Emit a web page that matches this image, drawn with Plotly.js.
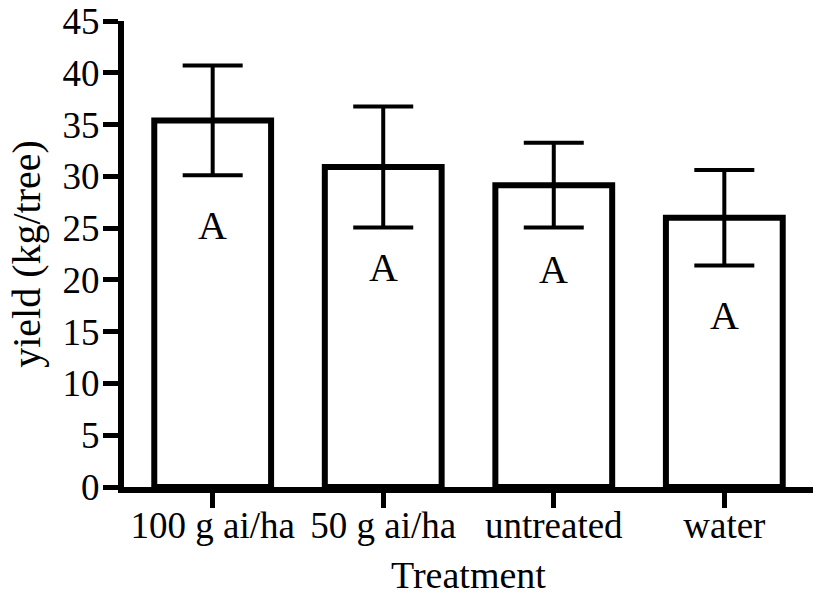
<!DOCTYPE html>
<html>
<head>
<meta charset="utf-8">
<script src="https://cdn.plot.ly/plotly-3.0.1.min.js"></script>
<style>html,body{margin:0;padding:0;background:#fff;}#chart{width:813px;height:598px;}</style>
</head>
<body>
<div id="chart"></div>
<script>
// Data
var categories = ['100 g ai/ha', '50 g ai/ha', 'untreated', 'water'];
var yieldMeans = [35.4, 30.9, 29.15, 26.0];
var yieldErrors = [5.3, 5.85, 4.1, 4.6];
var groupLetters = ['A', 'A', 'A', 'A'];
var letterY = [25.3, 21.2, 21.0, 16.6];
var yTickValues = [0, 5, 10, 15, 20, 25, 30, 35, 40, 45];

var FONT = 'Liberation Serif, Times New Roman, serif';

var trace = {
  type: 'bar',
  x: categories,
  y: yieldMeans,
  width: 0.685,
  marker: {color: '#ffffff', line: {color: '#000000', width: 6}},
  error_y: {type: 'data', array: yieldErrors, visible: true, color: '#000000', thickness: 4, width: 30},
  hoverinfo: 'none'
};

var annotations = categories.map(function (c, i) {
  return {
    x: c, y: letterY[i], xref: 'x', yref: 'y',
    text: groupLetters[i], showarrow: false,
    font: {family: FONT, size: 40, color: '#000'},
    yanchor: 'middle', xanchor: 'center'
  };
});

var layout = {
  width: 813, height: 598,
  margin: {l: 124, r: 0, t: 21, b: 111},
  paper_bgcolor: '#ffffff', plot_bgcolor: '#ffffff',
  showlegend: false,
  font: {family: FONT, color: '#000'},
  xaxis: {
    range: [-0.52, 3.52],
    showline: true, linewidth: 6, linecolor: '#000',
    ticks: 'outside', ticklen: 15, tickwidth: 5, tickcolor: '#000',
    ticklabelstandoff: -14,
    tickfont: {family: FONT, size: 37, color: '#000'},
    showgrid: false, zeroline: false, fixedrange: true,
    title: {text: 'Treatment', font: {family: FONT, size: 38, color: '#000'}, standoff: 18}
  },
  yaxis: {
    range: [0, 45],
    tickvals: yTickValues,
    showline: true, linewidth: 6, linecolor: '#000',
    ticks: 'outside', ticklen: 15, tickwidth: 5, tickcolor: '#000',
    ticklabelstandoff: -4,
    tickfont: {family: FONT, size: 37, color: '#000'},
    showgrid: false, zeroline: false, fixedrange: true,
    title: {text: 'yield (kg/tree)', font: {family: FONT, size: 40, color: '#000'}, standoff: 12}
  },
  annotations: annotations
};

Plotly.newPlot('chart', [trace], layout, {displayModeBar: false, staticPlot: true});
</script>
</body>
</html>
